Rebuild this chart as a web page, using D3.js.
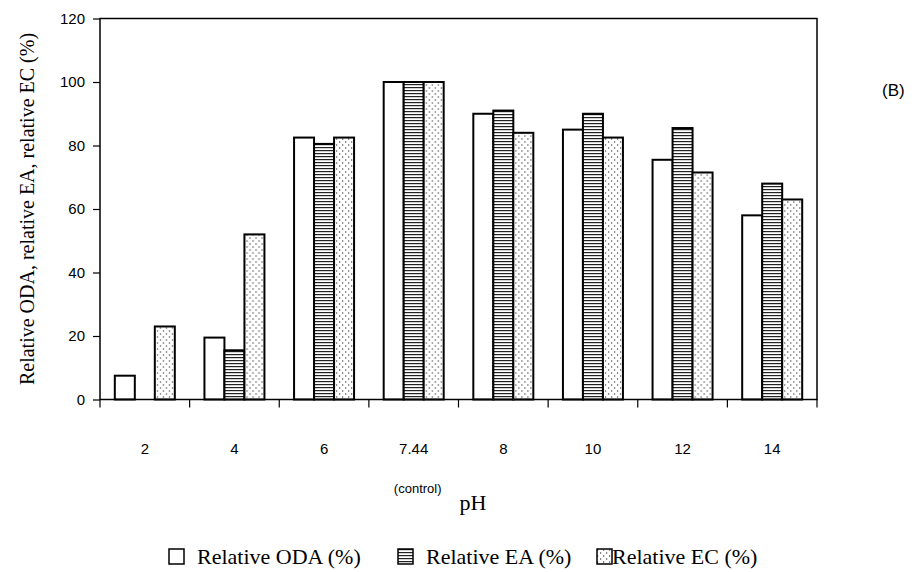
<!DOCTYPE html>
<html>
<head>
<meta charset="utf-8">
<script src="https://cdn.jsdelivr.net/npm/d3@7"></script>
<style>
  body { margin: 0; background: #fff; }
  svg { display: block; }
</style>
</head>
<body>
<script>
const categories = ['2', '4', '6', '7.44', '8', '10', '12', '14'];
const seriesNames = ['Relative ODA (%)', 'Relative EA (%)', 'Relative EC (%)'];
const odaValues = [7.5, 19.5, 82.5, 100, 90, 85, 75.5, 58];
const eaValues = [0, 15.5, 80.5, 100, 91, 90, 85.5, 68];
const ecValues = [23, 52, 82.5, 100, 84, 82.5, 71.5, 63];
const yTicks = [0, 20, 40, 60, 80, 100, 120];

const width = 923, height = 572;
const plot = { left: 100, right: 817, top: 18.5, bottom: 399.5 };
const fills = ['#fff', 'url(#pat-ea)', 'url(#pat-ec)'];

const svg = d3.select('body').append('svg')
  .attr('width', width)
  .attr('height', height);

// hatch patterns
const defs = svg.append('defs');
const pEA = defs.append('pattern')
  .attr('id', 'pat-ea').attr('patternUnits', 'userSpaceOnUse')
  .attr('width', 4).attr('height', 3);
pEA.append('rect').attr('width', 4).attr('height', 3).attr('fill', '#fff');
pEA.append('rect').attr('y', 0).attr('width', 4).attr('height', 1.2).attr('fill', '#222');

const pEC = defs.append('pattern')
  .attr('id', 'pat-ec').attr('patternUnits', 'userSpaceOnUse')
  .attr('width', 6).attr('height', 6);
pEC.append('rect').attr('width', 6).attr('height', 6).attr('fill', '#fff');
pEC.append('rect').attr('x', 0).attr('y', 0).attr('width', 1.2).attr('height', 2).attr('fill', '#888');
pEC.append('rect').attr('x', 3).attr('y', 3).attr('width', 1.2).attr('height', 2).attr('fill', '#888');

const x = d3.scaleBand().domain(categories).range([plot.left, plot.right]).padding(0);
const xInner = d3.scaleBand().domain(d3.range(3)).range([0, 60]);
const y = d3.scaleLinear().domain([0, 120]).range([plot.bottom, plot.top]);

const rows = categories.map((c, i) => ({
  cat: c,
  values: [odaValues[i], eaValues[i], ecValues[i]]
}));

// bars
const groups = svg.selectAll('.grp')
  .data(rows)
  .enter()
  .append('g')
  .attr('class', 'grp')
  .attr('transform', d => `translate(${x(d.cat) + (x.bandwidth() - 60) / 2},0)`);

groups.selectAll('rect')
  .data(d => d.values.map((v, k) => ({ v, k })).filter(e => e.v > 0))
  .enter()
  .append('rect')
  .attr('x', e => xInner(e.k))
  .attr('y', e => y(e.v))
  .attr('width', xInner.bandwidth())
  .attr('height', e => y(0) - y(e.v))
  .attr('fill', e => fills[e.k])
  .attr('stroke', '#000')
  .attr('stroke-width', 2);

// frame
svg.append('rect')
  .attr('x', plot.left).attr('y', plot.top)
  .attr('width', plot.right - plot.left)
  .attr('height', plot.bottom - plot.top)
  .attr('fill', 'none').attr('stroke', '#000').attr('stroke-width', 1.5);

// y axis
const yAxis = svg.append('g')
  .attr('transform', `translate(${plot.left},0)`)
  .call(d3.axisLeft(y).tickValues(yTicks).tickSize(7).tickPadding(8));
yAxis.select('.domain').remove();
yAxis.selectAll('line').attr('stroke', '#000').attr('stroke-width', 1.2);
yAxis.selectAll('text')
  .attr('font-family', 'Liberation Sans, Arial, sans-serif')
  .attr('font-size', 15).attr('fill', '#000');

// x axis: ticks at band boundaries, labels lower down
const xBounds = categories.map(c => x(c)).concat([plot.right]);
svg.append('g').selectAll('line')
  .data(xBounds)
  .enter()
  .append('line')
  .attr('x1', d => d).attr('x2', d => d)
  .attr('y1', plot.bottom).attr('y2', plot.bottom + 8)
  .attr('stroke', '#000').attr('stroke-width', 1.2);

svg.append('g').selectAll('text')
  .data(categories)
  .enter()
  .append('text')
  .attr('x', d => x(d) + x.bandwidth() / 2)
  .attr('y', 454)
  .attr('text-anchor', 'middle')
  .attr('font-family', 'Liberation Sans, Arial, sans-serif')
  .attr('font-size', 15)
  .text(d => d);

svg.append('text')
  .attr('x', x('7.44') + x.bandwidth() / 2 + 4)
  .attr('y', 493)
  .attr('text-anchor', 'middle')
  .attr('font-family', 'Liberation Sans, Arial, sans-serif')
  .attr('font-size', 13)
  .text('(control)');

svg.append('text')
  .attr('x', 473)
  .attr('y', 510)
  .attr('text-anchor', 'middle')
  .attr('font-family', 'Liberation Serif, Times New Roman, serif')
  .attr('font-size', 22)
  .text('pH');

// y title
svg.append('text')
  .attr('transform', `translate(34,${(plot.top + plot.bottom) / 2}) rotate(-90)`)
  .attr('text-anchor', 'middle')
  .attr('font-family', 'Liberation Serif, Times New Roman, serif')
  .attr('font-size', 20)
  .text('Relative ODA,  relative EA,  relative EC (%)');

// panel label
svg.append('text')
  .attr('x', 882).attr('y', 96)
  .attr('font-family', 'Liberation Sans, Arial, sans-serif')
  .attr('font-size', 17)
  .text('(B)');

// legend
const legendX = [169, 398, 597];
const legend = svg.append('g').selectAll('g')
  .data(seriesNames)
  .enter()
  .append('g')
  .attr('transform', (d, i) => `translate(${legendX[i]},549)`);
legend.append('rect')
  .attr('width', 15).attr('height', 15)
  .attr('fill', (d, i) => fills[i])
  .attr('stroke', '#000').attr('stroke-width', 1.5);
legend.append('text')
  .attr('x', (d, i) => i === 2 ? 15 : 28)
  .attr('y', 15)
  .attr('font-family', 'Liberation Serif, Times New Roman, serif')
  .attr('font-size', 22)
  .text(d => d);
</script>
</body>
</html>
